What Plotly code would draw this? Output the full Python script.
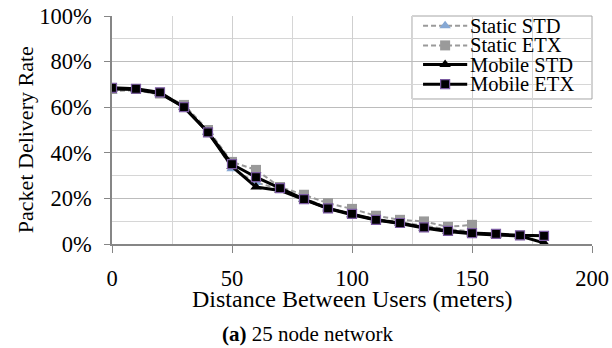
import plotly.graph_objects as go

distance_mobile = [0, 10, 20, 30, 40, 50, 60, 70, 80, 90, 100, 110, 120, 130, 140, 150, 160, 170, 180]
distance_static = [0, 10, 20, 30, 40, 50, 60, 70, 80, 90, 100, 110, 120, 130, 140, 150]

static_std = [67.0, 67.5, 65.5, 60.5, 49.5, 33.0, 27.0, 24.0, 20.0, 16.0, 13.0, 11.0, 9.5, 8.0, 6.5, 5.5]
static_etx = [68.0, 68.0, 66.0, 61.0, 50.0, 36.0, 32.5, 25.0, 21.6, 17.9, 15.4, 12.4, 10.6, 9.9, 7.5, 8.4]
mobile_std = [68.0, 67.8, 66.0, 60.0, 49.0, 34.0, 25.0, 23.5, 19.5, 15.5, 12.8, 10.5, 9.0, 7.0, 5.5, 4.5, 4.0, 3.5, 0.5]
mobile_etx = [68.5, 68.1, 66.5, 60.0, 49.0, 35.0, 29.3, 24.5, 19.7, 15.6, 13.2, 10.6, 9.2, 7.3, 5.8, 4.8, 4.4, 3.8, 3.6]

series_names = ["Static STD", "Static ETX", "Mobile STD", "Mobile ETX"]
x_tick_values = [0, 50, 100, 150, 200]
x_title = "Distance Between Users (meters)"
y_title = "Packet Delivery Rate"
caption = "<b>(a)</b> 25 node network"

FONT = "Liberation Serif"

styles = {
    "Static STD": dict(line=dict(color="#9a9a9a", width=2, dash="5px,3px"),
                       marker=dict(symbol="triangle-up", size=10, color="#86a8d4", line=dict(width=0))),
    "Static ETX": dict(line=dict(color="#9a9a9a", width=2, dash="5px,3px"),
                       marker=dict(symbol="square", size=10, color="#9a9a9a", line=dict(width=0))),
    "Mobile STD": dict(line=dict(color="#000000", width=3),
                       marker=dict(symbol="triangle-up", size=10, color="#000000", line=dict(width=0))),
    "Mobile ETX": dict(line=dict(color="#000000", width=3),
                       marker=dict(symbol="square", size=9, color="#000000",
                                   line=dict(width=1.2, color="#7a5aa0"))),
}

data = {
    "Static STD": (distance_static, static_std),
    "Static ETX": (distance_static, static_etx),
    "Mobile STD": (distance_mobile, mobile_std),
    "Mobile ETX": (distance_mobile, mobile_etx),
}

fig = go.Figure()
for name in series_names:
    xs, ys = data[name]
    fig.add_trace(go.Scatter(x=xs, y=ys, name=name, mode="lines+markers",
                             showlegend=False, **styles[name]))

# compact legend on an overlay axis (0..1 coordinates)
leg_y = [0.957, 0.871, 0.787, 0.701]
for name, yy in zip(series_names, leg_y):
    st = styles[name]
    fig.add_trace(go.Scatter(x=[0.648, 0.740], y=[yy, yy], mode="lines",
                             line=st["line"], xaxis="x2", yaxis="y2",
                             showlegend=False, hoverinfo="skip"))
    fig.add_trace(go.Scatter(x=[0.694], y=[yy], mode="markers",
                             marker=st["marker"], xaxis="x2", yaxis="y2",
                             showlegend=False, hoverinfo="skip"))
    fig.add_annotation(text=name, xref="paper", yref="paper", x=0.741, y=yy,
                       xanchor="left", yanchor="middle", showarrow=False,
                       font=dict(family=FONT, size=20.5, color="black"))

fig.add_shape(type="rect", xref="paper", yref="paper", x0=0.625, x1=1.0, y0=0.636, y1=1.0,
              line=dict(color="#a6a6a6", width=1), fillcolor="white", layer="between")

fig.update_layout(
    width=612, height=348,
    margin=dict(l=112, r=20, t=16, b=104),
    paper_bgcolor="white", plot_bgcolor="white",
    font=dict(family=FONT, size=22, color="black"),
    showlegend=False,
    xaxis=dict(range=[0, 200], tickvals=x_tick_values, automargin=False,
               showline=True, linecolor="#868686", linewidth=1.5,
               ticks="outside", ticklen=7, tickcolor="#868686",
               ticklabelstandoff=6,
               showgrid=True, gridcolor="#cfcfcf", gridwidth=1,
               minor=dict(dtick=25, showgrid=True, gridcolor="#d6d6d6", ticks=""),
               zeroline=False,
               tickfont=dict(family=FONT, size=22.5)),
    yaxis=dict(range=[0, 100], dtick=20, ticksuffix="%", automargin=False,
               showline=True, linecolor="#868686", linewidth=1.5,
               ticks="outside", ticklen=6, tickcolor="#868686",
               ticklabelstandoff=8,
               showgrid=True, gridcolor="#bcbcbc", gridwidth=1,
               minor=dict(dtick=10, showgrid=True, gridcolor="#d6d6d6", ticks=""),
               zeroline=False,
               tickfont=dict(family=FONT, size=22.5)),
    xaxis2=dict(overlaying="x", range=[0, 1], visible=False, fixedrange=True),
    yaxis2=dict(overlaying="y", range=[0, 1], visible=False, fixedrange=True),
)

fig.add_annotation(text=x_title, xref="paper", yref="paper",
                   x=0.501, y=0, yshift=-55, xanchor="center", yanchor="middle",
                   showarrow=False, font=dict(family=FONT, size=24, color="black"))
fig.add_annotation(text=y_title, xref="paper", yref="paper", textangle=-90,
                   x=-0.181, y=0.456, xanchor="center", yanchor="middle",
                   showarrow=False, font=dict(family=FONT, size=22, color="black"))
fig.add_annotation(text=caption, xref="paper", yref="paper",
                   x=0.407, y=0, yshift=-90, xanchor="center", yanchor="middle",
                   showarrow=False, font=dict(family=FONT, size=21, color="black"))

fig.write_html("out.html")
